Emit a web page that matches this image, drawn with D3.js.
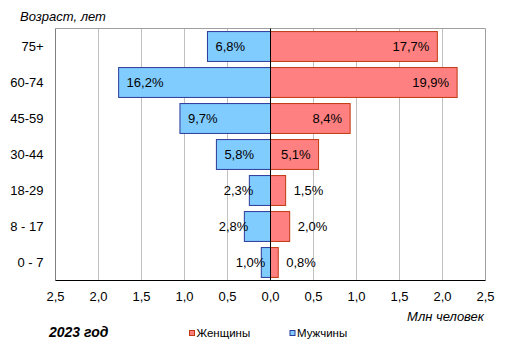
<!DOCTYPE html>
<html><head><meta charset="utf-8">
<script src="https://cdn.jsdelivr.net/npm/d3@7"></script>
<style>body{margin:0;background:#fff}svg{display:block}text{font-family:"Liberation Sans",Arial,sans-serif;fill:#000}</style>
</head><body><svg id="c" width="514" height="356"></svg>
<script>
const categories = ["75+","60-74","45-59","30-44","18-29","8 - 17","0 - 7"];
const menValues = [0.733,1.766,1.053,0.629,0.246,0.304,0.107];
const womenValues = [1.94,2.17,0.926,0.559,0.176,0.223,0.09];
const menShare = [6.8,16.2,9.7,5.8,2.3,2.8,1.0];
const womenShare = [17.7,19.9,8.4,5.1,1.5,2.0,0.8];
const tickValues = [-2.5,-2,-1.5,-1,-0.5,0,0.5,1,1.5,2,2.5];

const svg = d3.select("#c");
const L=55.5, R=485.5, T=28.5, B=280.5;
const x = d3.scaleLinear().domain([-2.5,2.5]).range([L,R]);
const y = d3.scaleBand().domain(categories).range([T,B]).paddingInner(0.17).paddingOuter(0.085);
const fmt = v => d3.format(".1f")(v).replace(".",",");
const pct = v => fmt(v)+"%";

// grid
svg.append("g").selectAll("line").data(tickValues.filter(t=>t!==0 && Math.abs(t)!==2.5)).join("line")
  .attr("x1",d=>x(d)).attr("x2",d=>x(d)).attr("y1",T).attr("y2",B)
  .attr("stroke","#c0c0c0").attr("stroke-width",1);
// border
svg.append("line").attr("x1",L).attr("x2",R).attr("y1",T).attr("y2",T).attr("stroke","#a0a0a0");
svg.append("line").attr("x1",R).attr("x2",R).attr("y1",T).attr("y2",B).attr("stroke","#a0a0a0");
svg.append("line").attr("x1",L).attr("x2",L).attr("y1",T).attr("y2",B).attr("stroke","#808080");

// bars
const men = categories.map((c,i)=>({c,v:menValues[i],p:menShare[i]}));
const women = categories.map((c,i)=>({c,v:womenValues[i],p:womenShare[i]}));
svg.append("g").selectAll("rect").data(men).join("rect")
  .attr("x",d=>x(-d.v)).attr("width",d=>x(0)-x(-d.v))
  .attr("y",d=>y(d.c)).attr("height",y.bandwidth())
  .attr("fill","#80ccff").attr("stroke","#2b3a9a").attr("stroke-width",1);
svg.append("g").selectAll("rect").data(women).join("rect")
  .attr("x",x(0)).attr("width",d=>x(d.v)-x(0))
  .attr("y",d=>y(d.c)).attr("height",y.bandwidth())
  .attr("fill","#ff8080").attr("stroke","#c0380f").attr("stroke-width",1);

// center & bottom axis
svg.append("line").attr("x1",x(0)).attr("x2",x(0)).attr("y1",T).attr("y2",B).attr("stroke","#000");
svg.append("line").attr("x1",L).attr("x2",R).attr("y1",B).attr("y2",B).attr("stroke","#000");

// labels
const FS = 13;
svg.append("g").selectAll("text").data(men).join("text")
  .attr("font-size",FS).attr("dy","0.36em")
  .attr("y",d=>y(d.c)+y.bandwidth()/2)
  .attr("x",d=>{const w=x(0)-x(-d.v); return w>40 ? x(-d.v)+8 : x(-d.v)+4;})
  .attr("text-anchor",d=>(x(0)-x(-d.v))>40?"start":"end")
  .text(d=>pct(d.p));
svg.append("g").selectAll("text").data(women).join("text")
  .attr("font-size",FS).attr("dy","0.36em")
  .attr("y",d=>y(d.c)+y.bandwidth()/2)
  .attr("x",d=>{const w=x(d.v)-x(0); return w>40 ? x(d.v)-8 : x(d.v)+8;})
  .attr("text-anchor",d=>(x(d.v)-x(0))>40?"end":"start")
  .text(d=>pct(d.p));

// category axis
svg.append("g").selectAll("text").data(categories).join("text")
  .attr("font-size",FS).attr("text-anchor","end").attr("dy","0.36em")
  .attr("x",43.5).attr("y",d=>y(d)+y.bandwidth()/2).text(d=>d);

// x ticks
svg.append("g").selectAll("text").data(tickValues).join("text")
  .attr("font-size",FS).attr("text-anchor","middle")
  .attr("x",d=>x(d)).attr("y",300.5).text(d=>fmt(Math.abs(d)));

// titles
svg.append("text").attr("x",20).attr("y",21).attr("font-size",13).attr("font-style","italic").text("Возраст, лет");
svg.append("text").attr("x",484).attr("y",321).attr("font-size",13).attr("font-style","italic").attr("text-anchor","end").text("Млн человек");
svg.append("text").attr("x",49).attr("y",337).attr("font-size",14).attr("font-style","italic").attr("font-weight","bold").text("2023 год");

// legend
const legend = [{n:"Женщины",f:"#ff8080",s:"#c0380f",x:189},{n:"Мужчины",f:"#80ccff",s:"#2b3a9a",x:289.5}];
const lg = svg.append("g").selectAll("g").data(legend).join("g");
lg.append("rect").attr("x",d=>d.x+0.5).attr("y",330.5).attr("width",5).attr("height",5)
  .attr("fill",d=>d.f).attr("stroke",d=>d.s);
lg.append("text").attr("x",d=>d.x+7.5).attr("y",337).attr("font-size",11.5).text(d=>d.n);
</script></body></html>
